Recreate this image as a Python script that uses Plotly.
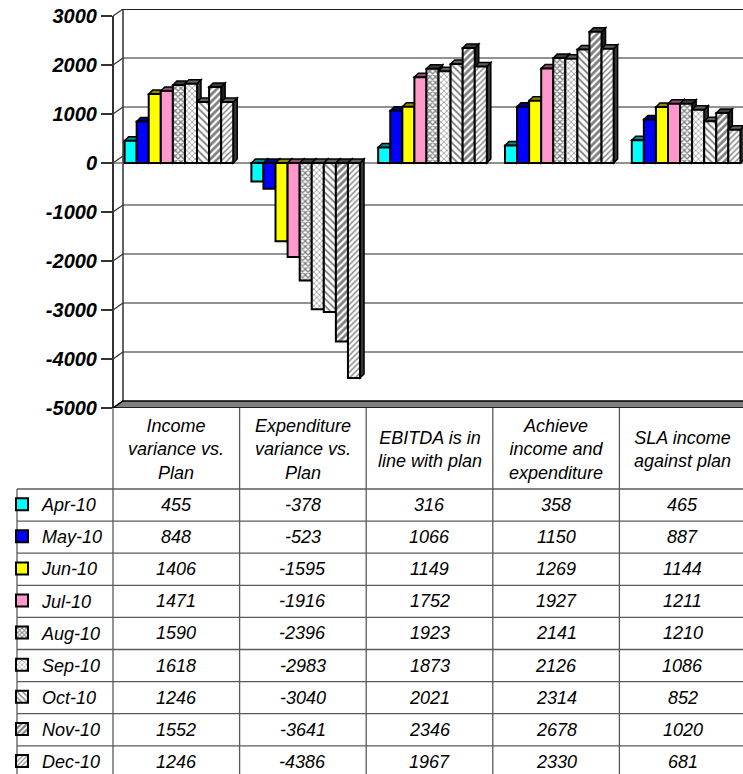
import plotly.graph_objects as go

# ---- data -------------------------------------------------------------
categories = [
    "Income<br>variance vs.<br>Plan",
    "Expenditure<br>variance vs.<br>Plan",
    "EBITDA is in<br>line with plan",
    "Achieve<br>income and<br>expenditure",
    "SLA income<br>against plan",
]
months = ["Apr-10", "May-10", "Jun-10", "Jul-10", "Aug-10",
          "Sep-10", "Oct-10", "Nov-10", "Dec-10"]

apr_10 = [455, -378, 316, 358, 465]
may_10 = [848, -523, 1066, 1150, 887]
jun_10 = [1406, -1595, 1149, 1269, 1144]
jul_10 = [1471, -1916, 1752, 1927, 1211]
aug_10 = [1590, -2396, 1923, 2141, 1210]
sep_10 = [1618, -2983, 1873, 2126, 1086]
oct_10 = [1246, -3040, 2021, 2314, 852]
nov_10 = [1552, -3641, 2346, 2678, 1020]
dec_10 = [1246, -4386, 1967, 2330, 681]
series = [apr_10, may_10, jun_10, jul_10, aug_10, sep_10, oct_10, nov_10, dec_10]

tick_values = [3000, 2000, 1000, 0, -1000, -2000, -3000, -4000, -5000]
tick_labels = ["3000", "2000", "1000", "0", "-1000", "-2000", "-3000", "-4000", "-5000"]

# ---- styles -----------------------------------------------------------
FONT = "Liberation Sans, Arial, sans-serif"
styles = [
    dict(color="#00FFFF", top="#008B8B", side="#005555", pattern=None),
    dict(color="#0000FF", top="#00008B", side="#000055", pattern=None),
    dict(color="#FFFF00", top="#8B8B00", side="#555500", pattern=None),
    dict(color="#FF99CC", top="#8B4F6F", side="#553044", pattern=None),
    dict(color="white", top="#3c3c3c", side="#202020",
         pattern=dict(shape="x", size=4, solidity=0.55)),
    dict(color="white", top="#606060", side="#383838",
         pattern=dict(shape="x", size=4, solidity=0.3)),
    dict(color="white", top="#606060", side="#383838",
         pattern=dict(shape="\\", size=5, solidity=0.35)),
    dict(color="white", top="#3c3c3c", side="#202020",
         pattern=dict(shape="/", size=5, solidity=0.55)),
    dict(color="white", top="#606060", side="#383838",
         pattern=dict(shape="/", size=4, solidity=0.35)),
]

# ---- geometry (pixels of the 743 x 774 page) ----------------------------
W, H = 743, 774
PL, PR, PT, PB = 113, 743, 9, 408          # plot area edges
KY = 49 / 1000                              # px per value unit
KX = 126.8                                  # px per category
X0_PX = 178.9                               # pixel of first category centre
WALL_DX, WALL_DY = 10, 7                    # back wall offset (px)
DEPTH_DX, DEPTH_DY = 4, 4                   # bar depth (px)

Y_MIN = -5000
Y_MAX = 3000 + WALL_DY / KY
X_MIN = -(X0_PX - PL) / KX
X_MAX = (PR - X0_PX) / KX
BW = 12.07 / KX                             # bar width in category units
dxu, dyu = DEPTH_DX / KX, DEPTH_DY / KY
wall_dy_u = WALL_DY / KY


def pxx(px):
    return (px - PL) / (PR - PL)


def pxy(py):
    return (PB - py) / (PB - PT)


fig = go.Figure()
shapes = []

# bars
n = len(series)
for j, (name, vals, st) in enumerate(zip(months, series, styles)):
    xs = [i + (j - (n - 1) / 2) * BW for i in range(len(vals))]
    marker = dict(color=st["color"], line=dict(color="black", width=2))
    if st["pattern"]:
        marker["pattern"] = dict(fgcolor="black", bgcolor="white", **st["pattern"])
    fig.add_trace(go.Bar(
        x=xs, y=vals, width=BW, name=name, legendgroup=name,
        marker=marker, hoverinfo="skip",
    ))
    # 3-D side and top faces
    for x, v in zip(xs, vals):
        x0, x1 = x - BW / 2, x + BW / 2
        if v >= 0:
            side = f"M{x1},0 L{x1+dxu},{dyu} L{x1+dxu},{v+dyu} L{x1},{v} Z"
            top = f"M{x0},{v} L{x0+dxu},{v+dyu} L{x1+dxu},{v+dyu} L{x1},{v} Z"
        else:
            side = f"M{x1},{v} L{x1+dxu},{v+dyu} L{x1+dxu},{dyu} L{x1},0 Z"
            top = f"M{x0},0 L{x0+dxu},{dyu} L{x1+dxu},{dyu} L{x1},0 Z"
        for path, col in ((side, st["side"]), (top, st["top"])):
            shapes.append(dict(type="path", path=path, xref="x", yref="y",
                               fillcolor=col, line=dict(color="black", width=1.5),
                               layer="between"))

# back wall gridlines
for v in tick_values:
    if v in (0, -5000):
        continue
    shapes.append(dict(type="line", xref="paper", yref="y",
                       x0=pxx(PL + WALL_DX), x1=1, y0=v + wall_dy_u, y1=v + wall_dy_u,
                       line=dict(color="#222222" if v == 3000 else "#6e6e6e",
                                 width=2 if v == 3000 else 1.5),
                       layer="below"))
# side wall diagonals
for v in tick_values:
    shapes.append(dict(type="line", xref="paper", yref="y",
                       x0=0, x1=pxx(PL + WALL_DX), y0=v, y1=v + wall_dy_u,
                       line=dict(color="#333333", width=1.2), layer="below"))
# back wall left edge and front axis
shapes.append(dict(type="line", xref="paper", yref="y",
                   x0=pxx(PL + WALL_DX), x1=pxx(PL + WALL_DX),
                   y0=Y_MIN + wall_dy_u, y1=3000 + wall_dy_u,
                   line=dict(color="#333333", width=1.5), layer="below"))
shapes.append(dict(type="line", xref="paper", yref="y",
                   x0=0, x1=0, y0=Y_MIN, y1=3000,
                   line=dict(color="#333333", width=2), layer="above"))
# zero line across the front
shapes.append(dict(type="line", xref="paper", yref="y",
                   x0=pxx(PL - 11), x1=1, y0=0, y1=0,
                   line=dict(color="#6e6e6e", width=1.5), layer="below"))
# floor
shapes.append(dict(type="path", xref="paper", yref="y",
                   path=(f"M0,{Y_MIN} L{pxx(PL + WALL_DX)},{Y_MIN + wall_dy_u} "
                         f"L1.02,{Y_MIN + wall_dy_u} L1.02,{Y_MIN} Z"),
                   fillcolor="#808080", line=dict(color="black", width=1.5),
                   layer="above"))

# ---- data table below the chart ----------------------------------------
COL_W = 126.6
HEAD_BOTTOM = 489
ROW_H = 32.1
TABLE_LEFT = 17
LINE = dict(color="#5a5a5a", width=1.3)

for k in range(len(categories)):
    xp = PL + k * COL_W
    shapes.append(dict(type="line", xref="paper", yref="paper",
                       x0=pxx(xp), x1=pxx(xp), y0=pxy(PB), y1=pxy(H + 5), line=LINE))
shapes.append(dict(type="line", xref="paper", yref="paper",
                   x0=pxx(TABLE_LEFT), x1=pxx(TABLE_LEFT),
                   y0=pxy(HEAD_BOTTOM), y1=pxy(H + 5), line=LINE))
for r in range(len(months)):
    yp = HEAD_BOTTOM + r * ROW_H
    shapes.append(dict(type="line", xref="paper", yref="paper",
                       x0=pxx(TABLE_LEFT), x1=1, y0=pxy(yp), y1=pxy(yp), line=LINE))

annotations = []
cell_font = dict(family=FONT, size=18, color="black", style="italic")
for k, cat in enumerate(categories):
    cx = PL + (k + 0.5) * COL_W
    annotations.append(dict(x=pxx(cx), y=pxy(449), xref="paper", yref="paper",
                            text=cat, showarrow=False, xanchor="center",
                            yanchor="middle", font=cell_font))
    for r, vals in enumerate(series):
        cy = HEAD_BOTTOM + (r + 0.5) * ROW_H
        annotations.append(dict(x=pxx(cx), y=pxy(cy), xref="paper", yref="paper",
                                text=str(vals[k]), showarrow=False,
                                xanchor="center", yanchor="middle", font=cell_font))

fig.update_layout(
    width=W, height=H,
    margin=dict(l=PL, r=W - PR, t=PT, b=H - PB, pad=0, autoexpand=False),
    paper_bgcolor="white", plot_bgcolor="white",
    barmode="overlay",
    showlegend=True,
    legend=dict(x=2 / W, y=1 - (HEAD_BOTTOM - 3) / H, xanchor="left", yanchor="top",
                xref="container", yref="container",
                font=dict(family=FONT, size=18, color="black", style="italic"),
                bgcolor="rgba(0,0,0,0)", borderwidth=0,
                tracegroupgap=5.7, traceorder="grouped"),
    xaxis=dict(range=[X_MIN, X_MAX], showgrid=False, zeroline=False,
               showticklabels=False, ticks="", fixedrange=True, automargin=False),
    yaxis=dict(range=[Y_MIN, Y_MAX], showgrid=False, zeroline=False,
               tickmode="array", tickvals=tick_values, ticktext=tick_labels,
               ticks="outside", ticklen=11, tickwidth=1.5, tickcolor="#333333",
               showline=False, automargin=False,
               tickfont=dict(family=FONT, size=20, color="black",
                             weight="bold", style="italic")),
    shapes=shapes,
    annotations=annotations,
)

fig.write_html("out.html")
